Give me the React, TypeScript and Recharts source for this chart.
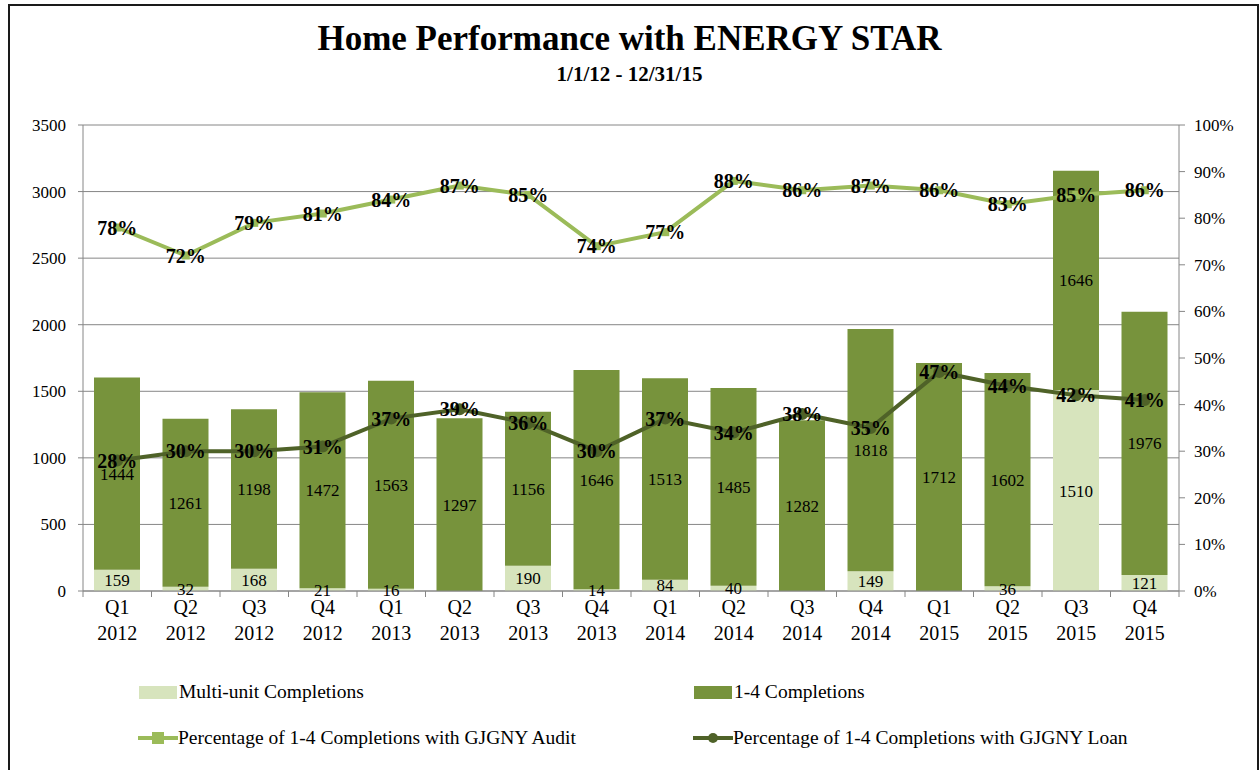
import React from 'react';
import { ComposedChart, Bar, Line, XAxis, YAxis, CartesianGrid, LabelList } from 'recharts';

const quarters = ['Q1 2012', 'Q2 2012', 'Q3 2012', 'Q4 2012', 'Q1 2013', 'Q2 2013', 'Q3 2013', 'Q4 2013',
  'Q1 2014', 'Q2 2014', 'Q3 2014', 'Q4 2014', 'Q1 2015', 'Q2 2015', 'Q3 2015', 'Q4 2015'];
const multiUnit = [159, 32, 168, 21, 16, 0, 190, 14, 84, 40, 0, 149, 0, 36, 1510, 121];
const oneToFour = [1444, 1261, 1198, 1472, 1563, 1297, 1156, 1646, 1513, 1485, 1282, 1818, 1712, 1602, 1646, 1976];
const auditPct = [78, 72, 79, 81, 84, 87, 85, 74, 77, 88, 86, 87, 86, 83, 85, 86];
const loanPct = [28, 30, 30, 31, 37, 39, 36, 30, 37, 34, 38, 35, 47, 44, 42, 41];
const leftTicks = [0, 500, 1000, 1500, 2000, 2500, 3000, 3500];
const rightTicks = [0, 10, 20, 30, 40, 50, 60, 70, 80, 90, 100];

const chartData = quarters.map((q, i) => ({
  name: q,
  multi: multiUnit[i],
  one: oneToFour[i],
  audit: auditPct[i],
  loan: loanPct[i],
}));

const FONT = '"Liberation Serif", "Times New Roman", serif';
const LIGHT = '#d7e4bd';
const DARK = '#77933c';
const AUDIT = '#9bbb59';
const LOAN = '#4f6228';
const AXIS = '#868686';

const W = 1259;
const PLOT_LEFT = 83;
const PLOT_RIGHT = 1179;
const BAND = (PLOT_RIGHT - PLOT_LEFT) / quarters.length;

// two-line category tick, with Excel-style tick marks between categories
const CategoryTick = (props: any) => {
  const { x, y, payload, index } = props;
  const [q, yr] = String(payload.value).split(' ');
  return (
    <g>
      <line x1={x - BAND / 2} x2={x - BAND / 2} y1={y - 8} y2={y - 2} stroke={AXIS} />
      {index === quarters.length - 1 && (
        <line x1={x + BAND / 2} x2={x + BAND / 2} y1={y - 8} y2={y - 2} stroke={AXIS} />
      )}
      <text x={x} y={y + 15} textAnchor="middle" fontSize={20} fill="#000" fontFamily={FONT}>{q}</text>
      <text x={x} y={y + 41} textAnchor="middle" fontSize={20} fill="#000" fontFamily={FONT}>{yr}</text>
    </g>
  );
};

const LeftTick = (props: any) => {
  const { x, y, payload } = props;
  return (
    <text x={x} y={y} dy={6} textAnchor="end" fontSize={17} fill="#000" fontFamily={FONT}>{payload.value}</text>
  );
};

const RightTick = (props: any) => {
  const { x, y, payload } = props;
  return (
    <text x={x} y={y} dy={6} textAnchor="start" fontSize={17} fill="#000" fontFamily={FONT}>{`${payload.value}%`}</text>
  );
};

const SquareDot = (props: any) => {
  const { cx, cy } = props;
  return <rect x={cx - 4} y={cy - 4} width={8} height={8} fill={AUDIT} />;
};

const LegendItem = ({ type, color, label }: { type: string; color: string; label: string }) => (
  <div style={{ display: 'flex', alignItems: 'center', fontSize: 19.5, color: '#000', fontFamily: FONT }}>
    {type === 'box' ? (
      <span style={{ display: 'inline-block', width: 38, height: 13, background: color, marginRight: 2 }} />
    ) : (
      <svg width={40} height={16} style={{ marginRight: 0 }}>
        <line x1={0} x2={40} y1={8} y2={8} stroke={color} strokeWidth={4} />
        {type === 'square'
          ? <rect x={14} y={2} width={12} height={12} fill={color} />
          : <circle cx={20} cy={8} r={5} fill={color} />}
      </svg>
    )}
    <span>{label}</span>
  </div>
);

export default function App() {
  return (
    <div style={{ position: 'absolute', left: 0, top: 0, width: W, height: 770, background: '#fff', overflow: 'hidden', fontFamily: FONT }}>
      <div style={{ position: 'absolute', left: 8, top: 4, width: 1247, height: 800, border: '2px solid #1a1a1a' }} />
      <div style={{ position: 'absolute', top: 19, width: W, textAlign: 'center', fontWeight: 'bold', fontSize: 35, color: '#000' }}>
        Home Performance with ENERGY STAR
      </div>
      <div style={{ position: 'absolute', top: 62, width: W, textAlign: 'center', fontWeight: 'bold', fontSize: 21, color: '#000' }}>
        1/1/12 - 12/31/15
      </div>
      <div style={{ position: 'absolute', left: 0, top: 0 }}>
        <ComposedChart width={W} height={650} data={chartData} margin={{ top: 125, right: 0, left: 0, bottom: 0 }}
          barSize={46} style={{ fontFamily: FONT }}>
          <CartesianGrid vertical={false} stroke={AXIS} strokeWidth={1} yAxisId="left" />
          <XAxis dataKey="name" height={59} interval={0} tickLine={false} axisLine={{ stroke: AXIS }} tick={<CategoryTick />} />
          <YAxis yAxisId="left" width={PLOT_LEFT} domain={[0, 3500]} ticks={leftTicks} interval={0}
            axisLine={{ stroke: AXIS }} tickLine={{ stroke: AXIS }} tickSize={5} tickMargin={12}
            tick={<LeftTick />} />
          <YAxis yAxisId="right" orientation="right" width={W - PLOT_RIGHT} domain={[0, 100]} ticks={rightTicks} interval={0}
            axisLine={{ stroke: AXIS }} tickLine={{ stroke: AXIS }} tickSize={6} tickMargin={9}
            tick={<RightTick />} />
          <Bar yAxisId="left" dataKey="multi" stackId="a" fill={LIGHT} isAnimationActive={false}>
            <LabelList dataKey="multi" position="center" fontSize={17} fill="#000" fontFamily={FONT}
              formatter={(v: any) => (v ? v : '')} />
          </Bar>
          <Bar yAxisId="left" dataKey="one" stackId="a" fill={DARK} isAnimationActive={false}>
            <LabelList dataKey="one" position="center" fontSize={17} fill="#000" fontFamily={FONT} />
          </Bar>
          <Line yAxisId="right" dataKey="audit" stroke={AUDIT} strokeWidth={4} dot={<SquareDot />} isAnimationActive={false}>
            <LabelList dataKey="audit" position="center" fontSize={20} fontWeight="bold" fill="#000" fontFamily={FONT}
              formatter={(v: any) => `${v}%`} />
          </Line>
          <Line yAxisId="right" dataKey="loan" stroke={LOAN} strokeWidth={4} dot={{ r: 4, fill: LOAN, stroke: LOAN }} isAnimationActive={false}>
            <LabelList dataKey="loan" position="center" fontSize={20} fontWeight="bold" fill="#000" fontFamily={FONT}
              formatter={(v: any) => `${v}%`} />
          </Line>
        </ComposedChart>
      </div>
      <div style={{ position: 'absolute', left: 139, top: 681 }}>
        <LegendItem type="box" color={LIGHT} label="Multi-unit Completions" />
      </div>
      <div style={{ position: 'absolute', left: 694, top: 681 }}>
        <LegendItem type="box" color={DARK} label="1-4 Completions" />
      </div>
      <div style={{ position: 'absolute', left: 138, top: 727 }}>
        <LegendItem type="square" color={AUDIT} label="Percentage of 1-4 Completions with GJGNY Audit" />
      </div>
      <div style={{ position: 'absolute', left: 693, top: 727 }}>
        <LegendItem type="circle" color={LOAN} label="Percentage of 1-4 Completions with GJGNY Loan" />
      </div>
    </div>
  );
}
